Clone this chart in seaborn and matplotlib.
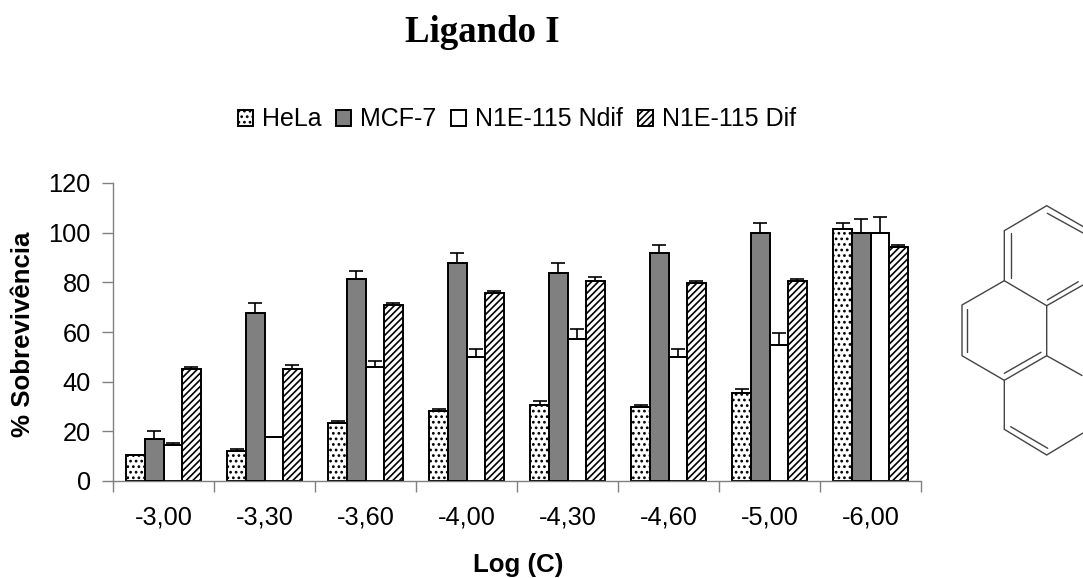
import pandas as pd
import numpy as np
import matplotlib
matplotlib.use("Agg")
import matplotlib.pyplot as plt
import seaborn as sns

# Values
concentrations = ["-3,00", "-3,30", "-3,60", "-4,00", "-4,30", "-4,60", "-5,00", "-6,00"]
cell_lines = ["HeLa", "MCF-7", "N1E-115 Ndif", "N1E-115 Dif"]
hela = [10.3, 12.0, 23.4, 28.2, 30.6, 29.8, 35.4, 101.5]
mcf7 = [16.8, 67.7, 81.3, 87.8, 83.8, 91.8, 99.9, 99.9]
ndif = [14.4, 17.7, 45.9, 50.0, 57.2, 50.0, 54.8, 99.9]
dif = [45.1, 45.1, 70.9, 75.7, 80.5, 79.7, 80.5, 94.2]
hela_err = [0.3, 0.9, 0.8, 0.8, 1.6, 0.8, 1.6, 2.4]
mcf7_err = [3.2, 4.0, 3.3, 4.0, 4.0, 3.2, 4.0, 5.6]
ndif_err = [0.9, 0.0, 2.4, 3.2, 4.0, 3.2, 4.8, 6.4]
dif_err = [0.8, 1.6, 0.8, 0.8, 1.6, 0.8, 0.8, 0.8]

series = [hela, mcf7, ndif, dif]
errors = [hela_err, mcf7_err, ndif_err, dif_err]
fills = ["white", "#808080", "white", "white"]
hatches = ["...", "", "", "/////"]

df = pd.DataFrame({
    "Log (C)": concentrations * 4,
    "Linha": [c for c in cell_lines for _ in concentrations],
    "Sobrevivencia": hela + mcf7 + ndif + dif,
})

sns.set_theme(style="white")
plt.rcParams["font.family"] = ["Liberation Sans", "DejaVu Sans"]
plt.rcParams["hatch.linewidth"] = 1.2
plt.rcParams["text.color"] = "black"
plt.rcParams["axes.labelcolor"] = "black"

W, H = 1083, 578
fig = plt.figure(figsize=(W / 100, H / 100), dpi=100)
ax = fig.add_axes([113 / W, 1 - 481 / H, (921 - 113) / W, (481 - 183) / H])

sns.barplot(data=df, x="Log (C)", y="Sobrevivencia", hue="Linha", hue_order=cell_lines,
            palette=dict(zip(cell_lines, fills)), width=0.735, gap=0, errorbar=None,
            edgecolor="black", linewidth=1.4, saturation=1, ax=ax)

# Hatches and one sided error bars
for bars, hatch, vals, errs in zip(ax.containers, hatches, series, errors):
    xs = [b.get_x() + b.get_width() / 2 for b in bars]
    for b in bars:
        b.set_hatch(hatch)
    ax.errorbar(xs, vals, yerr=[np.zeros(len(errs)), errs], fmt="none", ecolor="black",
                elinewidth=1.2, capsize=5.2, capthick=1.2, zorder=4)
plt.setp(ax.containers[1], zorder=3)

ax.set_xlim(-0.5, 7.5)
ax.set_ylim(0, 120)
ax.set_yticks(range(0, 121, 20))
ax.set_xticks(np.arange(-0.5, 8), minor=True)
ax.tick_params(axis="x", which="major", length=0, pad=18, labelsize=18.3, labelcolor="black")
ax.tick_params(axis="x", which="minor", bottom=True, length=8, width=1, color="#808080")
ax.tick_params(axis="y", left=True, length=8, width=1, color="#808080", labelsize=18.3,
               labelcolor="black", pad=8)
sns.despine(ax=ax, top=True, right=True)
for side in ["left", "bottom"]:
    ax.spines[side].set_color("#808080")
    ax.spines[side].set_linewidth(1)

ax.set_xlabel("")
ax.set_ylabel("")
fig.text(518 / W, 1 - 565 / H, "Log (C)", fontsize=18.6, fontweight="bold", ha="center", va="center")
fig.text(23 / W, 1 - 334 / H, "% Sobrevivência", fontsize=18.6, fontweight="bold", rotation=90,
         ha="center", va="center")

# Legend across the top
handles = [bars[0] for bars in ax.containers]
ax.legend(handles, cell_lines, ncol=4, frameon=False, fontsize=18, loc="center", labelcolor="black",
          bbox_to_anchor=(517 / W, 1 - 119.5 / H), bbox_transform=fig.transFigure,
          handlelength=0.6, handleheight=0.6, handletextpad=0.36, columnspacing=0.6,
          borderpad=0, borderaxespad=0)

fig.text(482.5 / W, 1 - 32 / H, "Ligando I", family="Liberation Serif", fontsize=26.6,
         fontweight="bold", ha="center", va="center", color="black")

# Pyrene structure next to the chart, in picture pixels
mol = fig.add_axes([0, 0, 1, 1], facecolor="none")
mol.set_xlim(0, W)
mol.set_ylim(H, 0)
mol.axis("off")
bonds = [
    [(1083, 226.5), (1046.7, 205.7), (1004.3, 230.7), (1004.3, 280.7), (962, 305), (962, 355.7),
     (1004.3, 380.3), (1004.3, 429.3), (1046.7, 455), (1083, 433)],
    [(1004.3, 280.7), (1046.7, 305.7), (1046.7, 355.7), (1004.3, 380.3)],
    [(1046.7, 305.7), (1083, 285)],
    [(1046.7, 355.7), (1082, 375.5)],
    [(1011, 233.3), (1011, 277.7)],
    [(966.7, 309.3), (966.7, 352.3)],
    [(1004.3, 373.3), (1041, 352.3)],
    [(1047.3, 300), (1078.3, 281.7)],
    [(1010.7, 426.7), (1047.7, 448.3)],
    [(1047.3, 213.3), (1083, 233)],
]
for bond in bonds:
    xs, ys = zip(*bond)
    mol.plot(xs, ys, color="#444444", linewidth=1.0, solid_joinstyle="miter")

fig.savefig("out.png", dpi=100)
